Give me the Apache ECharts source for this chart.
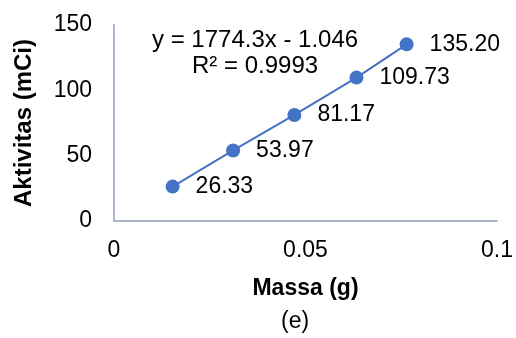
<!DOCTYPE html>
<html><head><meta charset="utf-8">
<script src="https://cdn.jsdelivr.net/npm/echarts@6/dist/echarts.min.js"></script>
<style>html,body{margin:0;padding:0;background:#fff}#c{width:516px;height:338px}</style>
</head><body><div id="c"></div>
<script>
var massa = [0.0153, 0.0311, 0.0471, 0.0633, 0.0764];
var aktivitas = [26.33, 53.97, 81.17, 109.73, 135.20];
var labels = ['26.33', '53.97', '81.17', '109.73', '135.20'];
var xTicks = [0, 0.05, 0.1];
var yTicks = [0, 50, 100, 150];
var equation = 'y = 1774.3x - 1.046';
var rSquared = 'R² = 0.9993';
var xTitle = 'Massa (g)';
var yTitle = 'Aktivitas (mCi)';
var caption = '(e)';

var F = 'Liberation Sans, Arial, sans-serif';
var chart = echarts.init(document.getElementById('c'), null, {renderer: 'canvas'});
var pts = massa.map(function(m, i){ return [m, aktivitas[i], labels[i]]; });
chart.setOption({
  animation: false,
  grid: {left: 114, right: 17, top: 25, bottom: 117},
  xAxis: {
    type: 'value', min: 0, max: 0.1, interval: 0.05,
    axisLine: {show: true, lineStyle: {color: '#A9B6CC', width: 2}},
    axisTick: {show: false}, splitLine: {show: false},
    axisLabel: {color: '#000', fontSize: 23, fontFamily: F, margin: 18,
      formatter: function(v){ return xTicks.indexOf(v) >= 0 ? String(v) : ''; }},
    name: xTitle, nameLocation: 'middle', nameGap: 56,
    nameTextStyle: {color: '#000', fontSize: 23, fontWeight: 'bold', fontFamily: F}
  },
  yAxis: {
    type: 'value', min: 0, max: 150, interval: 50,
    axisLine: {show: true, lineStyle: {color: '#A9B6CC', width: 2}},
    axisTick: {show: false}, splitLine: {show: false},
    axisLabel: {color: '#000', fontSize: 23, fontFamily: F, margin: 22,
      formatter: function(v){ return yTicks.indexOf(v) >= 0 ? String(v) : ''; }},
    name: yTitle, nameLocation: 'middle', nameGap: 78, nameRotate: 90,
    nameTextStyle: {color: '#000', fontSize: 24, fontWeight: 'bold', fontFamily: F}
  },
  graphic: [
    {type: 'text', left: 152, top: 28, style: {text: equation, fill: '#000', font: '24px ' + F}},
    {type: 'text', left: 192, top: 54, style: {text: rSquared, fill: '#000', font: '24px ' + F}},
    {type: 'text', left: 281, top: 310, style: {text: caption, fill: '#000', font: '23px ' + F}}
  ],
  series: [{
    type: 'line', data: pts, symbol: 'circle', symbolSize: 14,
    lineStyle: {color: '#4472C4', width: 2},
    itemStyle: {color: '#4472C4'},
    label: {show: true, position: 'right', distance: 16, color: '#000', fontSize: 23, fontFamily: F,
      formatter: function(p){ return p.data[2]; }}
  }]
});
</script></body></html>
